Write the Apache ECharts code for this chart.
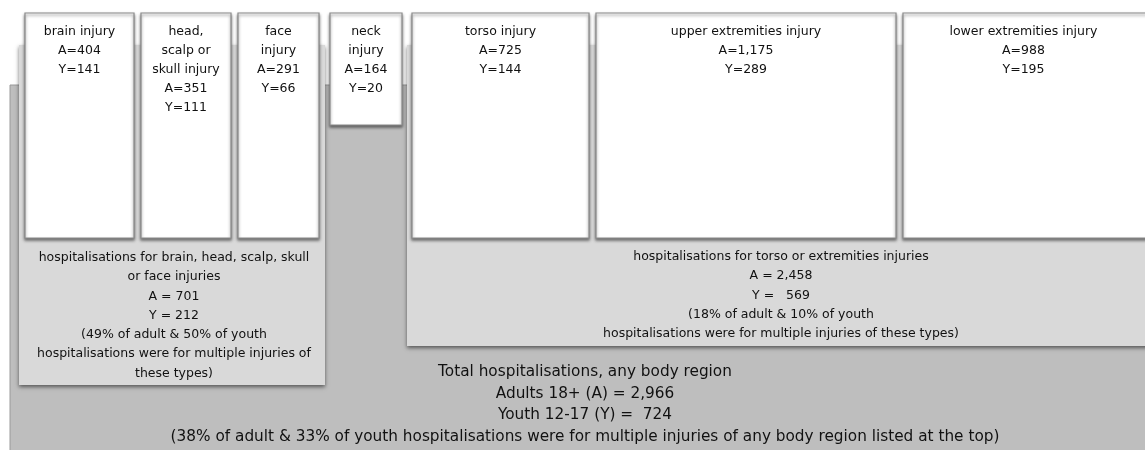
<!DOCTYPE html>
<html>
<head>
<meta charset="utf-8">
<script src="https://cdn.jsdelivr.net/npm/echarts@6/dist/echarts.min.js"></script>
<style>
html,body{margin:0;padding:0;background:#fff;}
#chart{width:1145px;height:450px;}
</style>
</head>
<body>
<div id="chart"></div>
<script>
// ---------- DATA ----------
const categories = ['brain injury', 'head,\nscalp or\nskull injury', 'face\ninjury', 'neck\ninjury',
  'torso injury', 'upper extremities injury', 'lower extremities injury'];
const adults = [404, 351, 291, 164, 725, 1175, 988];
const youth = [141, 111, 66, 20, 144, 289, 195];

const groupNames = ['hospitalisations for brain, head, scalp, skull\nor face injuries',
  'hospitalisations for torso or extremities injuries'];
const groupAdults = [701, 2458];
const groupYouth = [212, 569];
const groupAdultPct = [49, 18];
const groupYouthPct = [50, 10];

const totalLabel = 'Total hospitalisations, any body region';
const totalAdults = 2966;
const totalYouth = 724;
const totalAdultPct = 38;
const totalYouthPct = 33;

// ---------- LAYOUT (pixel frame of the diagram) ----------
const W = 1145, H = 450;
const boxLeft = [25, 141, 238, 330, 412, 596, 903];
const boxRight = [134, 231, 319, 402, 589, 896, 1150];
const boxBottom = [238, 238, 238, 125, 238, 238, 238];
const boxTop = 13;
const panels = [
  {x0: 10, y0: 85, x1: 1150, y1: 455, fill: '#bebebe', shadow: false},
  {x0: 19, y0: 45, x1: 325, y1: 385, fill: '#d9d9d9', shadow: true},
  {x0: 407, y0: 45, x1: 1150, y1: 346, fill: '#d9d9d9', shadow: true}
];
const FONT = '"DejaVu Sans", sans-serif';
const fmt = v => v.toLocaleString('en-US');

const groupTexts = [
  groupNames[0] + '\nA = ' + fmt(groupAdults[0]) + '\nY = ' + fmt(groupYouth[0]) +
    '\n(' + groupAdultPct[0] + '% of adult & ' + groupYouthPct[0] + '% of youth\nhospitalisations were for multiple injuries of\nthese types)',
  groupNames[1] + '\nA = ' + fmt(groupAdults[1]) + '\nY =   ' + fmt(groupYouth[1]) +
    '\n(' + groupAdultPct[1] + '% of adult & ' + groupYouthPct[1] + '% of youth\nhospitalisations were for multiple injuries of these types)'
];
const groupTextX = [174, 781];
const groupTextY = [248, 247];

const totalText = totalLabel + '\nAdults 18+ (A) = ' + fmt(totalAdults) + '\nYouth 12-17 (Y) =  ' + fmt(totalYouth) +
  '\n(' + totalAdultPct + '% of adult & ' + totalYouthPct + '% of youth hospitalisations were for multiple injuries of any body region listed at the top)';

const chart = echarts.init(document.getElementById('chart'));

function rectFrom(api, x0, y0, x1, y1) {
  const p0 = api.coord([x0, y0]);
  const p1 = api.coord([x1, y1]);
  return {x: Math.min(p0[0], p1[0]), y: Math.min(p0[1], p1[1]),
    width: Math.abs(p1[0] - p0[0]), height: Math.abs(p1[1] - p0[1])};
}

chart.setOption({
  backgroundColor: '#ffffff',
  animation: false,
  grid: {left: 0, right: 0, top: 0, bottom: 0},
  xAxis: {type: 'value', min: 0, max: W, show: false},
  yAxis: {type: 'value', min: 0, max: H, inverse: true, show: false},
  series: [
    {
      type: 'custom',
      z: 1,
      data: panels.map((p, i) => [i]),
      renderItem: function (params, api) {
        const p = panels[params.dataIndex];
        const r = rectFrom(api, p.x0, p.y0, p.x1, p.y1);
        return {
          type: 'rect', shape: r,
          style: {fill: p.fill, stroke: p.shadow ? 'rgba(0,0,0,0)' : '#9a9a9a', lineWidth: 1,
            shadowBlur: p.shadow ? 4 : 0, shadowOffsetY: p.shadow ? 2 : 0,
            shadowColor: 'rgba(0,0,0,0.55)'}
        };
      }
    },
    {
      type: 'custom',
      z: 2,
      data: [0, 1, 2].map(i => [i]),
      renderItem: function (params, api) {
        const i = params.dataIndex;
        if (i < 2) {
          const p = api.coord([groupTextX[i], groupTextY[i]]);
          return {type: 'text', style: {text: groupTexts[i], x: p[0], y: p[1], align: 'center', verticalAlign: 'top',
            fontSize: 12.5, fontFamily: FONT, lineHeight: 19.3, fill: '#111111'}};
        }
        const p = api.coord([585, 361]);
        return {type: 'text', style: {text: totalText, x: p[0], y: p[1], align: 'center', verticalAlign: 'top',
          fontSize: 15.3, fontFamily: FONT, lineHeight: 21.8, fill: '#111111'}};
      }
    },
    {
      type: 'custom',
      z: 3,
      data: categories.map((c, i) => [i, adults[i], youth[i]]),
      renderItem: function (params, api) {
        const i = params.dataIndex;
        const r = rectFrom(api, boxLeft[i], boxTop, boxRight[i], boxBottom[i]);
        const label = categories[i] + '\nA=' + fmt(api.value(1)) + '\nY=' + fmt(api.value(2));
        return {
          type: 'group',
          children: [
            {type: 'rect', shape: r, style: {fill: '#ffffff', stroke: '#8c8c8c', lineWidth: 1.2,
              shadowBlur: 3, shadowOffsetY: 2, shadowColor: 'rgba(0,0,0,0.5)'}},
            {type: 'text', style: {text: label, x: r.x + r.width / 2 + (i === 6 ? -3 : 0), y: r.y + 9,
              align: 'center', verticalAlign: 'top', fontSize: 12.5, fontFamily: FONT, lineHeight: 19, fill: '#111111'}}
          ]
        };
      }
    }
  ]
});
</script>
</body>
</html>
